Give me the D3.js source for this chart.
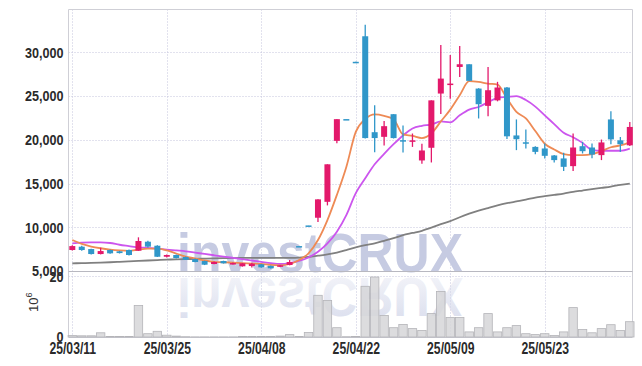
<!DOCTYPE html>
<html lang="en">
<head>
    <meta charset="UTF-8">
    <title>investCRUX candle chart</title>
    <script src="https://d3js.org/d3.v7.min.js"></script>
    <style>
        body {
            margin: 0;
            background: #fff;
        }
        svg {
            display: block;
        }
        .axis-label {
            font-family: "Liberation Sans", Arial, sans-serif;
            font-size: 15px;
            font-weight: bold;
            fill: #2a2a2a;
        }
        .grid line {
            stroke: #c4c4dc;
            stroke-dasharray: 1,2;
        }
    </style>
</head>
<body>
<svg width="642" height="366"></svg>
<script>
    // trading days (yy/mm/dd)
    const dates = [
        "25/03/11","25/03/12","25/03/13","25/03/14","25/03/17","25/03/18","25/03/19","25/03/20","25/03/21","25/03/24",
        "25/03/25","25/03/26","25/03/27","25/03/28","25/03/31","25/04/01","25/04/02","25/04/03","25/04/04","25/04/07",
        "25/04/08","25/04/09","25/04/10","25/04/11","25/04/14","25/04/15","25/04/16","25/04/17","25/04/18","25/04/21",
        "25/04/22","25/04/23","25/04/24","25/04/25","25/04/28","25/04/29","25/04/30","25/05/02","25/05/07","25/05/08",
        "25/05/09","25/05/12","25/05/13","25/05/14","25/05/15","25/05/16","25/05/19","25/05/20","25/05/21","25/05/22",
        "25/05/23","25/05/26","25/05/27","25/05/28","25/05/29","25/05/30","25/06/02","25/06/04","25/06/05","25/06/09"
    ];

    const open = [
        7400,7780,7510,6940,7400,7250,7400,7320,8350,7890,
        6630,6830,6600,6370,6140,5800,6140,5770,5540,5570,
        5770,5570,5490,5690,7850,10210,11090,12910,19880,22370,
        28920,31840,20870,20340,22930,19960,19920,17640,19090,25290,
        26400,28330,28640,25860,23880,24510,25980,20500,19720,19190,
        19010,18210,17870,16990,19270,19120,18250,22330,19940,19370
    ];
    const high = [
        7950,7890,7550,7660,7450,7300,7450,8850,8460,7950,
        6900,6880,6650,6420,6180,6100,6180,5980,5920,5950,
        5800,5620,5700,6260,7850,10210,13190,17200,22360,22370,
        28920,33170,23950,22160,22930,21640,20720,19540,24510,30850,
        29700,30730,28640,25900,28330,26630,26050,22330,21180,19250,
        19580,18250,18510,20720,19770,19580,20030,23270,20320,22050
    ];
    const low = [
        7350,7320,6900,6900,6980,7000,6780,7300,7700,6600,
        6550,6420,6250,5990,5680,5770,5850,5730,5500,5400,
        5380,5280,5450,5650,7830,10190,10610,12500,19600,22350,
        28880,20150,18590,19340,20150,18560,19190,17250,17410,22960,
        24700,27190,26700,22440,22700,24400,20090,18820,19010,18360,
        17870,17400,16420,16420,18440,17880,17680,19500,18620,19300
    ];
    const close = [
        7850,7400,6940,7280,7020,7050,6830,8430,7780,6630,
        6830,6480,6290,6030,5720,6030,5880,5910,5880,5830,
        5420,5310,5650,6030,7830,10190,13190,17200,22360,22350,
        28900,20200,20200,21560,20200,19940,19940,18780,24510,27000,
        26430,28640,26740,24070,25670,25980,20400,20070,19700,18620,
        18170,17680,16910,19120,18700,18320,19700,20050,19500,21470
    ];

    // moving averages
    const ma5 = [
        8540,8100,7800,7600,7450,7350,7300,7450,7550,7550,
        7350,7000,6650,6450,6200,6050,6000,5950,5900,5850,
        5800,5690,5650,5800,6260,7020,8540,10820,13700,16900,
        20900,22360,22900,22740,22360,20610,20450,20200,20720,22100,
        23450,25100,26700,26620,26430,26320,24720,23190,22440,21000,
        19550,18900,18360,18250,18250,18360,18700,19150,19350,19700
    ];
    const ma20 = [
        8160,8250,8280,8280,8200,8000,7850,7700,7650,7550,
        7450,7350,7250,7100,6950,6800,6650,6500,6350,6200,
        6050,5900,5800,5900,6150,6550,7200,8150,9500,11400,
        13900,15600,17200,18400,19500,20500,21300,21600,21750,22100,
        22000,22800,23450,23750,24300,24800,24900,25000,24550,23800,
        22800,21800,20800,20300,19650,18850,18750,18750,18750,19000
    ];
    const ma60 = [
        5880,5900,5930,5960,6000,6050,6100,6150,6200,6250,
        6300,6330,6360,6390,6420,6450,6470,6480,6490,6490,
        6490,6490,6490,6500,6530,6600,6750,6900,7100,7400,
        7700,7950,8150,8450,8750,9100,9350,9600,9950,10350,
        10700,11150,11550,11900,12200,12500,12750,12950,13150,13400,
        13550,13700,13850,14050,14200,14350,14500,14650,14850,15000
    ];

    // volume in millions of shares
    const volume = [
        0.5,0.4,0.4,1.4,0.2,0.2,0.2,10.5,1.1,1.9,
        0.6,0.3,0.1,0.05,0.05,0.05,0.05,0.05,0.2,0.2,
        0.2,0.2,0.3,0.8,0.2,1.5,13.9,12.2,3.1,0.1,
        0.2,16.9,20,7.2,3.1,4.2,2.8,2.2,7.8,15.2,
        6.5,6.5,1.7,3.1,7.8,1.7,3.1,3.8,1.1,0.8,
        1.1,0.5,1.7,9.8,2.5,1.4,2.8,4.1,2.2,5.1
    ];

    const priceTicks = [5000, 10000, 15000, 20000, 25000, 30000];
    const volumeTicks = [0, 20];
    const dateTicks = ["25/03/11", "25/03/25", "25/04/08", "25/04/22", "25/05/09", "25/05/23"];

    const upColor = "#e3196b", downColor = "#3097c9";

    const svg = d3.select("svg");
    const plotLeft = 68.5, plotRight = 632.5, plotTop = 9.5,
          priceBottom = 271, volTop = 277, volBottom = 337;

    const x = d3.scalePoint().domain(dates).range([72.3, 629.8]);
    const step = x.step();
    const y = d3.scaleLinear().domain([5000, 34900]).range([priceBottom, plotTop]);
    const yv = d3.scaleLinear().domain([0, 20]).range([volBottom, volTop]);

    const data = dates.map((d, i) => ({
        date: d, o: open[i], h: high[i], l: low[i], c: close[i], v: volume[i]
    }));

    // grid
    const grid = svg.append("g").attr("class", "grid");
    grid.selectAll(".hp").data(priceTicks.slice(1)).join("line")
        .attr("x1", plotLeft).attr("x2", plotRight)
        .attr("y1", d => Math.round(y(d)) + 0.5).attr("y2", d => Math.round(y(d)) + 0.5);
    grid.append("line")
        .attr("x1", plotLeft).attr("x2", plotRight)
        .attr("y1", volTop - 0.5).attr("y2", volTop - 0.5);
    grid.selectAll(".vx").data(dateTicks).join("line")
        .attr("x1", d => Math.round(x(d)) + 0.5).attr("x2", d => Math.round(x(d)) + 0.5)
        .attr("y1", plotTop).attr("y2", volBottom);

    // watermark with reflection
    const defs = svg.append("defs");
    const grad = defs.append("linearGradient").attr("id", "fade")
        .attr("x1", 0).attr("y1", 0).attr("x2", 0).attr("y2", 1);
    grad.append("stop").attr("offset", "0%").attr("stop-color", "#d4d8ea").attr("stop-opacity", 0.9);
    grad.append("stop").attr("offset", "100%").attr("stop-color", "#d4d8ea").attr("stop-opacity", 0.2);

    const wm = svg.append("g")
        .style("font-family", "'Liberation Sans', Arial, sans-serif")
        .style("font-weight", "bold")
        .style("font-size", "55px");
    wm.append("text")
        .attr("x", 177).attr("y", 272)
        .attr("textLength", 286).attr("lengthAdjust", "spacingAndGlyphs")
        .attr("fill", "#c6cbe2")
        .text("investCRUX");
    wm.append("text")
        .attr("x", 177).attr("y", 272)
        .attr("textLength", 286).attr("lengthAdjust", "spacingAndGlyphs")
        .attr("transform", "translate(0,550) scale(1,-1)")
        .attr("fill", "url(#fade)")
        .text("investCRUX");

    // frame
    const frame = svg.append("g").attr("fill", "none");
    frame.append("path")
        .attr("d", `M${plotLeft},${volBottom}V${plotTop}H${plotRight}V${volBottom}`)
        .attr("stroke", "#cfcfd6");
    frame.append("line")
        .attr("x1", plotLeft).attr("x2", plotRight)
        .attr("y1", priceBottom + 0.5).attr("y2", priceBottom + 0.5)
        .attr("stroke", "#b8b8c0");
    frame.append("line")
        .attr("x1", plotLeft).attr("x2", plotRight)
        .attr("y1", volBottom + 0.5).attr("y2", volBottom + 0.5)
        .attr("stroke", "#c8c8d0");

    // volume bars
    svg.append("g").selectAll("rect").data(data).join("rect")
        .attr("x", d => x(d.date) - step / 2 + 0.5)
        .attr("width", step - 1)
        .attr("y", d => yv(Math.min(d.v, 20)))
        .attr("height", d => volBottom - yv(Math.min(d.v, 20)))
        .attr("fill", "#d6d6d8")
        .attr("fill-opacity", 0.85)
        .attr("stroke", "#b4b4b8")
        .attr("stroke-width", 0.8);

    // moving averages
    const line = d3.line().x((d, i) => x(dates[i])).y(d => y(d)).curve(d3.curveMonotoneX);
    [[ma60, "#808080"], [ma20, "#cc55ee"], [ma5, "#ee8a55"]].forEach(([vals, col]) => {
        svg.append("path")
            .datum(vals)
            .attr("fill", "none")
            .attr("stroke", col)
            .attr("stroke-width", 1.8)
            .attr("d", line);
    });

    // candles
    const bw = 6;
    const candle = svg.append("g").selectAll("g").data(data).join("g")
        .attr("fill", d => d.c >= d.o ? upColor : downColor)
        .attr("stroke", d => d.c >= d.o ? upColor : downColor);
    candle.append("line")
        .attr("x1", d => x(d.date)).attr("x2", d => x(d.date))
        .attr("y1", d => y(d.h)).attr("y2", d => y(d.l))
        .attr("stroke-width", 1.3);
    candle.append("rect")
        .attr("x", d => x(d.date) - bw / 2)
        .attr("width", bw)
        .attr("y", d => y(Math.max(d.o, d.c)))
        .attr("height", d => Math.max(1.5, Math.abs(y(d.o) - y(d.c))))
        .attr("stroke", "none");

    // narrow the axis text to look like a condensed face
    function condense(sel, k) {
        sel.each(function () {
            const w = this.getComputedTextLength();
            d3.select(this).attr("textLength", w * k).attr("lengthAdjust", "spacingAndGlyphs");
        });
    }

    // axis labels
    const yAxis = d3.axisLeft(y).tickValues(priceTicks).tickFormat(d3.format(",")).tickSize(0).tickPadding(5);
    svg.append("g").attr("transform", `translate(${plotLeft},0)`).call(yAxis)
        .call(g => g.select(".domain").remove())
        .selectAll("text").attr("class", "axis-label")
        .call(condense, 0.84);

    const vAxis = d3.axisLeft(yv).tickValues(volumeTicks).tickSize(0).tickPadding(5);
    svg.append("g").attr("transform", `translate(${plotLeft},0)`).call(vAxis)
        .call(g => g.select(".domain").remove())
        .selectAll("text").attr("class", "axis-label")
        .call(condense, 0.84);

    const xAxis = d3.axisBottom(x).tickValues(dateTicks).tickSize(0).tickPadding(6);
    svg.append("g").attr("transform", `translate(0,${volBottom})`).call(xAxis)
        .call(g => g.select(".domain").remove())
        .selectAll("text").attr("class", "axis-label")
        .style("font-size", "16px")
        .call(condense, 0.76);

    const unit = svg.append("text")
        .attr("transform", "translate(38,312) rotate(-90)")
        .style("font-family", "'Liberation Sans', Arial, sans-serif")
        .style("font-size", "13px")
        .attr("fill", "#333");
    unit.append("tspan").text("10");
    unit.append("tspan").attr("dy", -6).style("font-size", "9px").text("6");
</script>
</body>
</html>
